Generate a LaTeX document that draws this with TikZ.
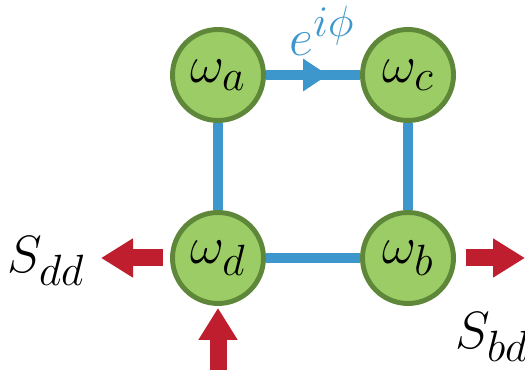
\documentclass[tikz,border=0pt]{standalone}
\usepackage{graphicx}
\usetikzlibrary{arrows.meta,decorations.markings}

\definecolor{modefill}{RGB}{155,204,101}
\definecolor{modeline}{RGB}{94,135,58}
\definecolor{couple}{RGB}{61,151,204}
\definecolor{port}{RGB}{190,30,45}

\newcommand{\symsize}[1]{\scalebox{1.2}{\Huge #1}}

\begin{document}
\begin{tikzpicture}[
    mode/.style={circle, draw=modeline, line width=2.8pt, fill=modefill, minimum size=1.82cm, inner sep=0pt},
    link/.style={draw=couple, line width=5.7pt},
    flow/.style={-{Triangle[length=0.64cm, width=0.74cm]}, draw=port, line width=0.34cm}
]
\useasboundingbox (0,0) rectangle (10.5,7.4);

% Ring modes
\node[mode] (a) at (4.36, 5.90) {\symsize{$\omega_a$}};
\node[mode] (c) at (8.16, 5.90) {\symsize{$\omega_c$}};
\node[mode] (d) at (4.36, 2.24) {\symsize{$\omega_d$}};
\node[mode] (b) at (8.16, 2.24) {\symsize{$\omega_b$}};

% Couplings
\draw[link, postaction={decorate, decoration={markings,
    mark=at position 0.66 with {\arrow{Triangle[length=0.5cm, width=0.62cm]}}}}]
    (a) -- (c);
\draw[link] (a) -- (d);
\draw[link] (c) -- (b);
\draw[link] (d) -- (b);
\node[text=couple] (phase) at (6.44, 6.78) {\symsize{$e^{i\phi}$}};

% Input and output ports
\coordinate (in) at (4.36, 0);
\coordinate (ddout) at (2.02, 2.24);
\coordinate (bdout) at (10.5, 2.24);
\draw[flow, shorten >=0.04cm] (in) -- (d);
\draw[flow, shorten <=0.14cm] (d) -- (ddout);
\draw[flow, shorten <=0.2cm] (b) -- (bdout);

% Port labels
\node (sdd) at (0.92, 2.18) {\symsize{$S_{dd}$}};
\node (sbd) at (9.84, 0.66) {\symsize{$S_{bd}$}};

\end{tikzpicture}
\end{document}
